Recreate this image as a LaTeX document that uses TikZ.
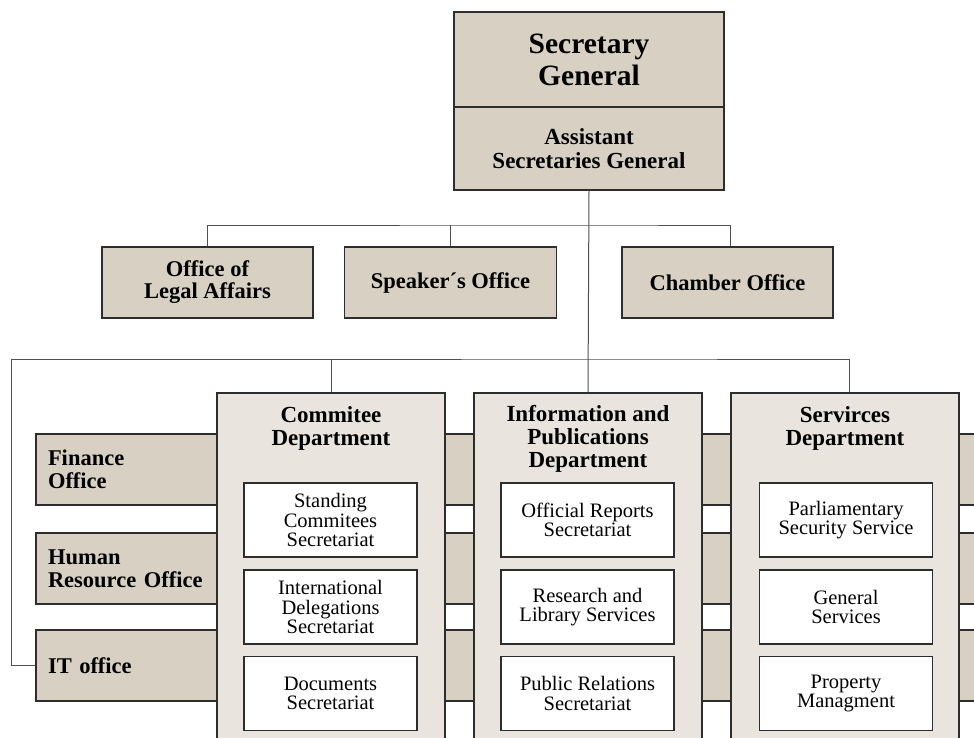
\documentclass[tikz,border=0pt]{standalone}
\usepackage{fontspec}
\setmainfont{Liberation Serif}
\definecolor{beigeA}{RGB}{216,209,195}
\definecolor{beigeB}{RGB}{233,229,222}
\definecolor{edge}{RGB}{45,45,45}
\definecolor{conn}{RGB}{80,80,80}
\tikzset{
  boxA/.style={draw=edge, line width=1.2pt, fill=beigeA, inner sep=0pt, align=center, font=\bfseries\fontsize{22.5}{22}\selectfont},
  barbox/.style={draw=edge, line width=1.2pt, fill=beigeA, inner xsep=12pt, inner ysep=0pt, text width=920pt, minimum height=71pt, align=left, font=\bfseries\fontsize{22.5}{23}\selectfont},
  deptbox/.style={draw=edge, line width=1.2pt, fill=beigeB, minimum width=228pt, minimum height=367pt, inner sep=0pt},
  depttitle/.style={inner sep=0pt, align=center, font=\bfseries\fontsize{23}{23}\selectfont},
  subbox/.style={draw=edge, line width=1.2pt, fill=white, minimum width=173pt, minimum height=74pt, inner sep=0pt, align=center, font=\fontsize{20.5}{19.5}\selectfont},
  link/.style={draw=conn, line width=1pt}
}
\begin{document}
\begin{tikzpicture}[x=1pt,y=-1pt]
\useasboundingbox (0,0) rectangle (974,738);
\clip (0,0) rectangle (974,738);
\fill[white] (0,0) rectangle (974,738);

% junction coordinates
\coordinate (j1) at (588,225);
\coordinate (j2) at (588,359);
\coordinate (lc) at (11,359);

% top boxes
\node[boxA, minimum width=270pt, minimum height=95pt, font=\bfseries\fontsize{29.5}{32}\selectfont] (sg) at (589,59.5) {Secretary\\General};
\node[boxA, minimum width=270pt, minimum height=83pt, font=\bfseries\fontsize{23}{24}\selectfont] (asg) at (589,148.5) {Assistant\\Secretaries General};

% office boxes
\node[boxA, minimum width=211pt, minimum height=71pt] (legal) at (207.5,282.5) {Office of\\Legal Affairs};
\node[boxA, minimum width=212pt, minimum height=71pt] (speaker) at (450.5,282.5) {Speaker´s Office};
\node[boxA, minimum width=211pt, minimum height=71pt] (chamber) at (727.5,282.5) {Chamber Office};

% horizontal bars
\node[barbox] (fin) at (508,469.5) {Finance\\Office};
\node[barbox] (hr) at (508,568.5) {Human\\Resource Office};
\node[barbox] (it) at (508,665.5) {IT office};

% departments
\node[deptbox] (comm) at (331,576.5) {};
\node[deptbox] (info) at (588,576.5) {};
\node[deptbox] (serv) at (845,576.5) {};

\node[depttitle] (commt) at (331,428) {Commitee\\Department};
\node[depttitle] (infot) at (588,439) {Information and\\Publications\\Department};
\node[depttitle] (servt) at (845,428) {Servirces\\Department};

% sub boxes
\node[subbox] (c1) at (330.5,520) {Standing\\Commitees\\Secretariat};
\node[subbox] (c2) at (330.5,607) {International\\Delegations\\Secretariat};
\node[subbox] (c3) at (330.5,693.5) {Documents\\Secretariat};

\node[subbox] (i1) at (587.5,520) {Official Reports\\Secretariat};
\node[subbox] (i2) at (587.5,607) {Research and\\Library Services};
\node[subbox] (i3) at (587.5,693.5) {Public Relations\\Secretariat};

\node[subbox] (s1) at (846,520) {Parliamentary\\Security Service};
\node[subbox] (s2) at (846,607) {General\\Services};
\node[subbox] (s3) at (846,693.5) {Property\\Managment};

% connectors
\path[link] (asg.south) -- (info.north);
\path[link] (legal.north) |- (j1) -| ([xshift=2.5pt]chamber.north);
\path[link] (speaker.north) -- (speaker.north |- j1);
\path[link] (comm.north) |- (j2) -| ([xshift=4pt]serv.north);
\path[link] (it.west) -| (lc) -- (comm.north |- lc);
\end{tikzpicture}
\end{document}
